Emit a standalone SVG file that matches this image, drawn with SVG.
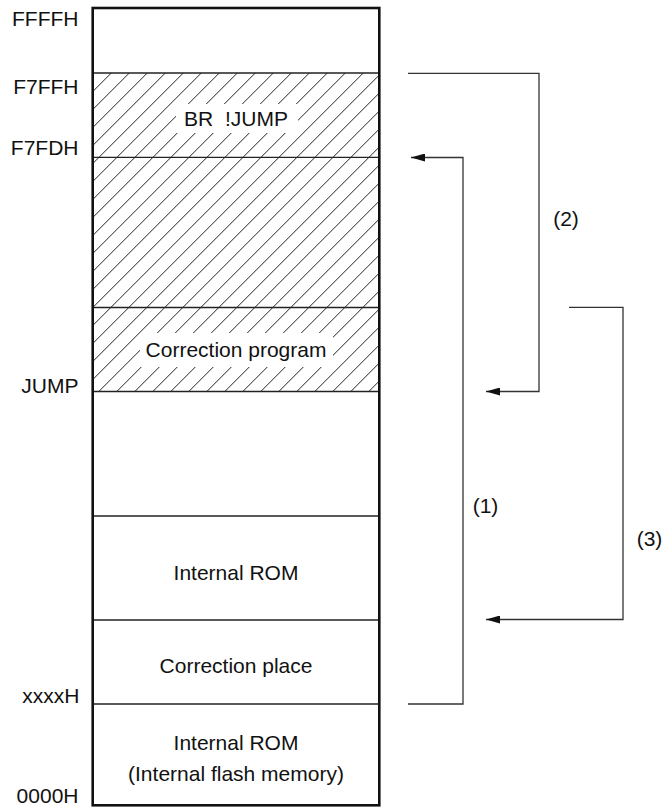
<svg xmlns="http://www.w3.org/2000/svg" width="663" height="807" viewBox="0 0 663 807">
<style>
text{font-family:"Liberation Sans",Arial,sans-serif;font-size:21px;fill:#111}
.c{text-anchor:middle}
.e{text-anchor:end}
.div{stroke:#222;stroke-width:1.3;fill:none}
.conn{stroke:#333;stroke-width:1.3;fill:none}
</style>
<defs>
<pattern id="hatch" patternUnits="userSpaceOnUse" x="4.3" y="0" width="18" height="18">
<path d="M0,18 L18,0 M-2,2 L2,-2 M16,20 L20,16" stroke="#222" stroke-width="1"/>
</pattern>
<marker id="arr" markerUnits="userSpaceOnUse" markerWidth="14" markerHeight="8" refX="14" refY="4" orient="auto">
<path d="M0,0 L14,4 L0,8 Z" fill="#111"/>
</marker>
</defs>
<g id="memory-map">
<rect x="92.7" y="73" width="286.6" height="318.5" fill="url(#hatch)"/>
<line class="div" x1="93" y1="73" x2="379" y2="73"/>
<line class="div" x1="93" y1="157.3" x2="379" y2="157.3"/>
<line class="div" x1="93" y1="307.5" x2="379" y2="307.5"/>
<line class="div" x1="93" y1="391.5" x2="379" y2="391.5"/>
<line class="div" x1="93" y1="516" x2="379" y2="516"/>
<line class="div" x1="93" y1="620" x2="379" y2="620"/>
<line class="div" x1="93" y1="704" x2="379" y2="704"/>
<rect x="92.7" y="8" width="286.6" height="797.3" fill="none" stroke="#111" stroke-width="2.6"/>
</g>
<g id="node-br-jump">
<rect x="176" y="104" width="122" height="29" fill="#fff"/>
<text class="c" x="236" y="126">BR <tspan dx="6">!JUMP</tspan></text>
</g>
<g id="node-correction-program">
<rect x="140" y="333" width="193" height="34" fill="#fff"/>
<text class="c" x="236" y="357">Correction program</text>
</g>
<g id="node-internal-rom">
<text class="c" x="236" y="580">Internal ROM</text>
</g>
<g id="node-correction-place">
<text class="c" x="236" y="673">Correction place</text>
</g>
<g id="node-internal-flash">
<text class="c" x="236" y="750">Internal ROM</text>
<text class="c" x="236" y="781">(Internal flash memory)</text>
</g>
<g id="address-labels">
<text class="e" x="78.5" y="26">FFFFH</text>
<text class="e" x="78.5" y="94">F7FFH</text>
<text class="e" x="78.5" y="155">F7FDH</text>
<text class="e" x="78.5" y="393">JUMP</text>
<text class="e" x="79.5" y="703">xxxxH</text>
<text class="e" x="78.5" y="803">0000H</text>
</g>
<g id="connectors">
<path class="conn" d="M408,73.3 H539 V391.5 H486" marker-end="url(#arr)"/>
<path class="conn" d="M408,704 H463 V157.5 H411" marker-end="url(#arr)"/>
<path class="conn" d="M569,307.3 H623 V619.5 H486" marker-end="url(#arr)"/>
<text class="c" x="566" y="226">(2)</text>
<text class="c" x="485.5" y="513">(1)</text>
<text class="c" x="649.5" y="546">(3)</text>
</g>
</svg>
